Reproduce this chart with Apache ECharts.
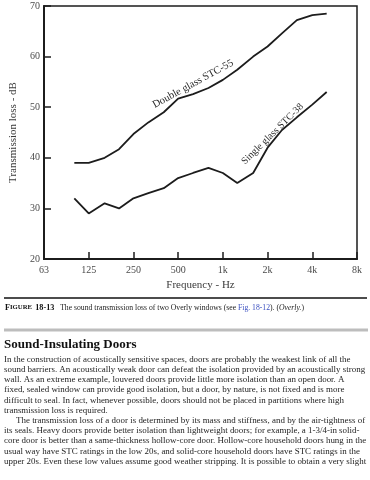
<!DOCTYPE html>
<html>
<head>
<meta charset="utf-8">
<script src="https://cdn.jsdelivr.net/npm/echarts@6/dist/echarts.min.js"></script>
<style>
html,body{margin:0;padding:0;background:#fff;}
#c{width:370px;height:480px;}
</style>
</head>
<body>
<div id="c"></div>
<script>
// ---- data ----
var frequencies = [100,125,160,200,250,315,400,500,630,800,1000,1250,1600,2000,2500,3150,4000,5000];
var doubleGlass = [39,39,40,41.7,44.7,47,49,51.7,52.6,53.8,55.4,57.4,60,62,64.6,67.2,68.2,68.5];
var singleGlass = [32,29,31,30,32,33,34,36,37,38,37,35,37,42,45.5,48,50.5,53];
var xTickLabels = ['63','125','250','500','1k','2k','4k','8k'];
var yTicks = [20,30,40,50,60,70];
var seriesNames = ['Double glass STC-55','Single glass STC-38'];

var bodyLines = [
 'In the construction of acoustically sensitive spaces, doors are probably the weakest link of all the',
 'sound barriers. An acoustically weak door can defeat the isolation provided by an acoustically strong',
 'wall. As an extreme example, louvered doors provide little more isolation than an open door. A',
 'fixed, sealed window can provide good isolation, but a door, by nature, is not fixed and is more',
 'difficult to seal. In fact, whenever possible, doors should not be placed in partitions where high',
 'transmission loss is required.',
 'The transmission loss of a door is determined by its mass and stiffness, and by the air-tightness of',
 'its seals. Heavy doors provide better isolation than lightweight doors; for example, a 1-3/4-in solid-',
 'core door is better than a same-thickness hollow-core door. Hollow-core household doors hung in the',
 'usual way have STC ratings in the low 20s, and solid-core household doors have STC ratings in the',
 'upper 20s. Even these low values assume good weather stripping. It is possible to obtain a very slight'
];

function octave(f){ return Math.log(f/62.5)/Math.LN2; }
function pairs(vals){ return frequencies.map(function(f,i){ return [octave(f), vals[i]]; }); }

var serif = '"Liberation Serif","DejaVu Serif",serif';
var ink = '#1c1c1c';

var chart = echarts.init(document.getElementById('c'));
var option = {
  animation:false,
  backgroundColor:'#fff',
  grid:{left:40,right:13,top:6,bottom:221,show:true,borderColor:ink,borderWidth:1.5,backgroundColor:'transparent'},
  xAxis:{
    type:'value',min:0,max:7,interval:1,
    name:'Frequency - Hz',nameLocation:'middle',nameGap:18,
    nameTextStyle:{fontFamily:serif,fontSize:11,color:'#3a3a3a'},
    axisLine:{show:true,lineStyle:{color:ink,width:2}},
    axisTick:{show:true,inside:true,length:7,lineStyle:{color:ink,width:1.5}},
    axisLabel:{fontFamily:serif,fontSize:10,color:'#4a4a4a',margin:6,
      formatter:function(v){ return xTickLabels[Math.round(v)]; }},
    splitLine:{show:false}
  },
  yAxis:{
    type:'value',min:yTicks[0],max:yTicks[yTicks.length-1],interval:10,
    name:'Transmission loss - dB',nameLocation:'middle',nameGap:25,
    nameTextStyle:{fontFamily:serif,fontSize:11,color:'#3a3a3a'},
    axisLine:{show:true,lineStyle:{color:ink,width:2}},
    axisTick:{show:true,inside:true,length:7,lineStyle:{color:ink,width:1.5}},
    axisLabel:{fontFamily:serif,fontSize:10,color:'#4a4a4a',margin:4},
    splitLine:{show:false}
  },
  series:[
    {name:seriesNames[0],type:'line',data:pairs(doubleGlass),symbol:'none',
      lineStyle:{color:ink,width:1.8}},
    {name:seriesNames[1],type:'line',data:pairs(singleGlass),symbol:'none',
      lineStyle:{color:ink,width:1.8}}
  ]
};
chart.setOption(option);

// curve annotations anchored in data coordinates
var p1 = chart.convertToPixel({gridIndex:0},[octave(630),54.6]);
var p2 = chart.convertToPixel({gridIndex:0},[octave(2160),44.7]);

var graphics = [
  {type:'text',x:p1[0],y:p1[1],rotation:28.7*Math.PI/180,
    style:{text:seriesNames[0],fontFamily:serif,fontSize:10.5,fill:'#2a2a2a',align:'center',verticalAlign:'middle'}},
  {type:'text',x:p2[0],y:p2[1],rotation:44.5*Math.PI/180,
    style:{text:seriesNames[1],fontFamily:serif,fontSize:10,fill:'#2a2a2a',align:'center',verticalAlign:'middle'}},
  // caption rule
  {type:'line',shape:{x1:4,y1:298,x2:367,y2:298},style:{stroke:'#111',lineWidth:1.5}},
  {type:'text',x:5,y:307.5,
    style:{
      rich:{
        b:{fontFamily:serif,fontSize:8.2,fontWeight:'bold',fill:'#111'},
        bs:{fontFamily:serif,fontSize:6.7,fontWeight:'bold',fill:'#111'},
        t:{fontFamily:serif,fontSize:7.7,fill:'#222'},
        l:{fontFamily:serif,fontSize:7.7,fill:'#3a4fc0'},
        i:{fontFamily:serif,fontSize:7.7,fontStyle:'italic',fill:'#222'}
      },
      text:'{b|F}{bs|IGURE} {b|18-13}{t|   The sound transmission loss of two Overly windows (see }{l|Fig. 18-12}{t|). (}{i|Overly.}{t|)}',
      verticalAlign:'middle'
    }},
  {type:'line',shape:{x1:4,y1:330,x2:368,y2:330},style:{stroke:'#bdbdbd',lineWidth:3}},
  {type:'text',x:4,y:345,style:{text:'Sound-Insulating Doors',fontFamily:serif,fontSize:13,fontWeight:'bold',fill:'#111',verticalAlign:'middle'}}
];
bodyLines.forEach(function(s,i){
  graphics.push({type:'text',x:(i===6?16:4),y:359.5+i*10.2,
    style:{text:s,fontFamily:serif,fontSize:8.95,fill:'#1e1e1e',verticalAlign:'middle'}});
});
chart.setOption({graphic:graphics});
</script>
</body>
</html>
